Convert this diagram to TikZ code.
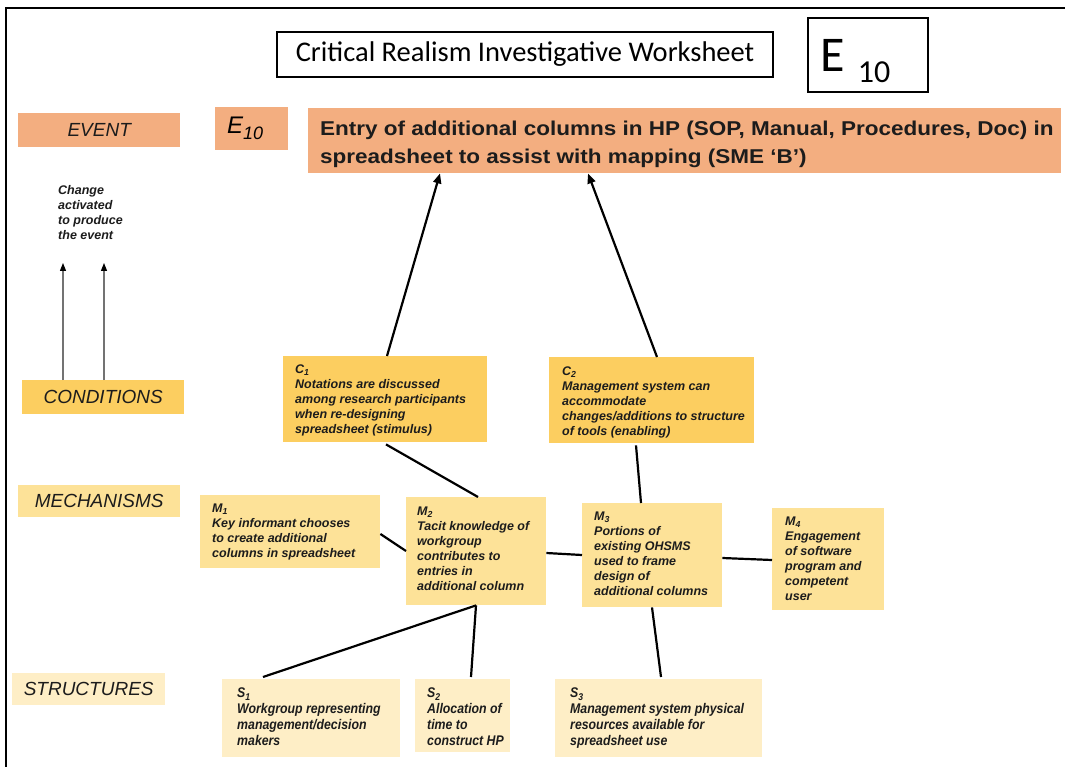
\documentclass[tikz,border=0pt]{standalone}
\usepackage{fontspec}
\setmainfont{Liberation Sans}
\newfontfamily\titlefont{Carlito}
\newfontfamily\narrowfont[FakeStretch=0.88]{Liberation Sans}
\newfontfamily\widefont[FakeStretch=1.125]{Liberation Sans}
\usetikzlibrary{arrows.meta}

\definecolor{eventfill}{RGB}{243,174,128}
\definecolor{condfill}{RGB}{252,206,96}
\definecolor{mechfill}{RGB}{253,226,152}
\definecolor{structfill}{RGB}{254,238,198}
\definecolor{ink}{RGB}{28,28,28}

\tikzset{
  panel/.style={inner sep=0pt, anchor=north west},
  evpanel/.style={panel, fill=eventfill},
  condpanel/.style={panel, fill=condfill},
  mechpanel/.style={panel, fill=mechfill},
  structpanel/.style={panel, fill=structfill},
  tier/.style={text=ink, font=\fontsize{19}{19}\selectfont\itshape},
  note/.style={anchor=north west, inner sep=0pt, align=left, text=ink,
    font=\fontsize{12.5}{15}\selectfont\bfseries\itshape},
  snote/.style={note, font=\narrowfont\fontsize{14}{16}\selectfont\bfseries\itshape},
  headbox/.style={draw, line width=1.4pt, inner sep=0pt},
  link/.style={line width=2.2pt, black},
  cause/.style={link, -{Triangle[length=10pt,width=8pt]}},
  hint/.style={line width=1.2pt, black!55, -{Triangle[length=8pt,width=6pt,color=black]}},
}

\begin{document}
\begin{tikzpicture}[x=1pt,y=-1pt]
\useasboundingbox (0,0) rectangle (1065,767);
\fill[white] (0,0) rectangle (1065,767);
% sheet frame
\draw[line width=2.5pt] (6,767) -- (6,8) -- (1065,8);

% header
\node[headbox, minimum width=496pt, minimum height=45pt] (title) at (525,54.5)
  {\titlefont\fontsize{28.5}{28.5}\selectfont Critical Realism Investigative Worksheet};
\node[headbox, minimum width=120pt, minimum height=74pt] (tag) at (868,55)
  {\titlefont\fontsize{50}{50}\selectfont E\hspace{13pt}\raisebox{-11pt}[0pt][0pt]{\fontsize{32}{32}\selectfont 10}\hspace{25pt}\null};

% tier labels
\node[evpanel, tier, minimum width=162pt, minimum height=34pt] (tev) at (18,113) {EVENT};
\node[condpanel, tier, minimum width=162pt, minimum height=34pt] (tcond) at (22,380) {CONDITIONS};
\node[mechpanel, tier, minimum width=162pt, minimum height=32pt] (tmech) at (18,485) {MECHANISMS};
\node[structpanel, tier, minimum width=153pt, minimum height=32pt] (tstruct) at (12,673) {STRUCTURES};

% event
\node[evpanel, minimum width=73pt, minimum height=43pt] (eid) at (215,107)
  {\itshape\fontsize{24}{24}\selectfont E\raisebox{-6pt}{\fontsize{18}{18}\selectfont 10}\hspace{13pt}\null};
\node[evpanel, minimum width=753pt, minimum height=65pt] (ev) at (308,108) {};
\node[anchor=north west, inner sep=0pt, align=left, text=ink,
  font=\widefont\fontsize{20}{28}\selectfont\bfseries] (evt) at (320,120.5)
  {Entry of additional columns in HP (SOP, Manual, Procedures, Doc) in\\
   spreadsheet to assist with mapping (SME ‘B’)};

% explanatory note with arrows
\node[note] (chg) at (58,185) {Change\\activated\\to produce\\the event};
\coordinate (upa) at (63,263);
\coordinate (upb) at (104,263);
\draw[hint] (tcond.north -| upa) -- (upa);
\draw[hint] (tcond.north -| upb) -- (upb);

% conditions
\node[condpanel, minimum width=204pt, minimum height=86pt] (c1) at (283,356) {};
\node[note] (c1t) at (295,365) {C\textsubscript{1}\\Notations are discussed\\among research participants\\when re-designing\\spreadsheet (stimulus)};
\node[condpanel, minimum width=205pt, minimum height=86pt] (c2) at (549,357) {};
\node[note] (c2t) at (562,367) {C\textsubscript{2}\\Management system can\\accommodate\\changes/additions to structure\\of tools (enabling)};

% mechanisms
\node[mechpanel, minimum width=180pt, minimum height=73pt] (m1) at (200,495) {};
\node[note] (m1t) at (212,504) {M\textsubscript{1}\\Key informant chooses\\to create additional\\columns in spreadsheet};
\node[mechpanel, minimum width=140pt, minimum height=108pt] (m2) at (406,497) {};
\node[note] (m2t) at (417,507) {M\textsubscript{2}\\Tacit knowledge of\\workgroup\\contributes to\\entries in\\additional column};
\node[mechpanel, minimum width=140pt, minimum height=104pt] (m3) at (582,503) {};
\node[note] (m3t) at (594,512) {M\textsubscript{3}\\Portions of\\existing OHSMS\\used to frame\\design of\\additional columns};
\node[mechpanel, minimum width=112pt, minimum height=102pt] (m4) at (772,508) {};
\node[note] (m4t) at (785,517) {M\textsubscript{4}\\Engagement\\of software\\program and\\competent\\user};

% structures
\node[structpanel, minimum width=178pt, minimum height=78pt] (s1) at (222,679) {};
\node[snote] (s1t) at (237,688) {S\textsubscript{1}\\Workgroup representing\\management/decision\\makers};
\node[structpanel, minimum width=95pt, minimum height=73pt] (s2) at (415,679) {};
\node[snote] (s2t) at (427,688) {S\textsubscript{2}\\Allocation of\\time to\\construct HP};
\node[structpanel, minimum width=207pt, minimum height=78pt] (s3) at (555,679) {};
\node[snote] (s3t) at (570,688) {S\textsubscript{3}\\Management system physical\\resources available for\\spreadsheet use};

% causal links
\draw[cause] ([xshift=104pt]c1.north west) -- ([xshift=132pt]ev.south west);
\draw[cause] ([xshift=108pt]c2.north west) -- ([xshift=280pt]ev.south west);
\draw[link] ([xshift=103pt,yshift=-2pt]c1.south west) -- ([xshift=72pt]m2.north west);
\draw[link] ([xshift=87pt,yshift=-2pt]c2.south west) -- ([xshift=59pt]m3.north west);
\draw[link] ([yshift=-39pt]m1.north east) -- ([yshift=-54pt]m2.north west);
\draw[link] ([yshift=-56pt]m2.north east) -- ([yshift=-52pt]m3.north west);
\draw[link] ([yshift=-55pt]m3.north east) -- ([yshift=-52pt]m4.north west);
\draw[link] ([xshift=70pt]m2.south west) -- ([xshift=41pt,yshift=2pt]s1.north west);
\draw[link] ([xshift=70pt]m2.south west) -- ([xshift=56pt,yshift=2pt]s2.north west);
\draw[link] ([xshift=70pt]m3.south west) -- ([xshift=106pt,yshift=2pt]s3.north west);
\end{tikzpicture}
\end{document}
